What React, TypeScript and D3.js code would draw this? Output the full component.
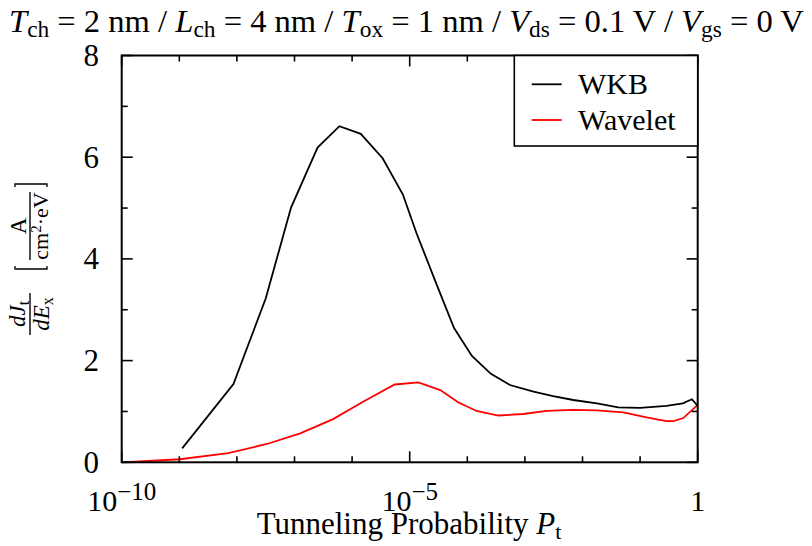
import React from "react";
import * as d3 from "d3";

const wkbExp = [-8.95, -8.06, -7.5, -7.06, -6.6, -6.22, -5.85, -5.47, -5.12, -4.88, -4.53, -4.23, -3.92, -3.59, -3.26, -2.85, -2.51, -2.16, -1.75, -1.38, -1.0, -0.54, -0.26, -0.1, 0];
const wkbVal = [0.275, 1.54, 3.22, 5.01, 6.19, 6.61, 6.46, 5.98, 5.27, 4.5, 3.49, 2.64, 2.09, 1.74, 1.52, 1.39, 1.3, 1.225, 1.16, 1.08, 1.07, 1.11, 1.16, 1.24, 1.11];
const wavExp = [-10, -8.99, -8.15, -7.48, -6.9, -6.33, -5.81, -5.26, -4.85, -4.47, -4.16, -3.84, -3.46, -3.03, -2.62, -2.16, -1.75, -1.29, -0.89, -0.54, -0.42, -0.25, 0];
const wavVal = [0, 0.06, 0.18, 0.36, 0.57, 0.85, 1.19, 1.53, 1.57, 1.42, 1.18, 1.01, 0.92, 0.95, 1.01, 1.03, 1.02, 0.98, 0.885, 0.81, 0.81, 0.87, 1.13];

const xMajorExp = [-10, -5, 0];
const xMinorExp = [-9, -8, -7, -6, -4, -3, -2, -1];
const yMajor = [0, 2, 4, 6, 8];
const yMinor = [1, 3, 5, 7];
const xTickLabels = ["10", "10", "1"];
const xTickSup = ["\u221210", "\u22125", ""];

const seriesNames = ["WKB", "Wavelet"];
const seriesColors = ["#000000", "#ff0000"];

const W = 812, H = 546;
const L = 121.7, R = 697.7, T = 55.5, B = 462.3;
const FONT = "Liberation Serif, Times New Roman, Tinos, DejaVu Serif, serif";
const F = { fontFamily: FONT };

export default function App() {
  const x = d3.scaleLog().domain([1e-10, 1]).range([L, R]);
  const y = d3.scaleLinear().domain([0, 8]).range([B, T]);
  const line = d3
    .line<[number, number]>()
    .x((d) => x(Math.pow(10, d[0])))
    .y((d) => y(d[1]));
  const wkb = wkbExp.map((e, i) => [e, wkbVal[i]] as [number, number]);
  const wav = wavExp.map((e, i) => [e, wavVal[i]] as [number, number]);

  const majLen = 11, minLen = 6;
  const tickStyle = { stroke: "#000", strokeWidth: 1.6 };

  return (
    <svg width={W} height={H} style={{ position: "absolute", left: 0, top: 0, background: "#fff", fontFamily: FONT }}>
      <rect x={0} y={0} width={W} height={H} fill="#fff" />
      {/* title */}
      <text x={9} y={32} fontSize={32.6} style={F}>
        <tspan fontStyle="italic">T</tspan>
        <tspan fontSize={23.4} dy={5}>ch</tspan>
        <tspan dy={-5}> = 2 nm / </tspan>
        <tspan fontStyle="italic">L</tspan>
        <tspan fontSize={23.4} dy={5}>ch</tspan>
        <tspan dy={-5}> = 4 nm / </tspan>
        <tspan fontStyle="italic">T</tspan>
        <tspan fontSize={23.4} dy={5}>ox</tspan>
        <tspan dy={-5}> = 1 nm / </tspan>
        <tspan fontStyle="italic">V</tspan>
        <tspan fontSize={23.4} dy={5}>ds</tspan>
        <tspan dy={-5}> = 0.1 V / </tspan>
        <tspan fontStyle="italic">V</tspan>
        <tspan fontSize={23.4} dy={5}>gs</tspan>
        <tspan dy={-5}> = 0 V</tspan>
      </text>

      {/* curves */}
      <path d={line(wav) || ""} fill="none" stroke={seriesColors[1]} strokeWidth={1.8} />
      <path d={line(wkb) || ""} fill="none" stroke={seriesColors[0]} strokeWidth={1.8} />

      {/* ticks */}
      {xMajorExp.map((e, i) => (
        <g key={"xM" + i}>
          <line x1={x(Math.pow(10, e))} x2={x(Math.pow(10, e))} y1={B} y2={B - majLen} style={tickStyle} />
          <line x1={x(Math.pow(10, e))} x2={x(Math.pow(10, e))} y1={T} y2={T + majLen} style={tickStyle} />
          <text x={x(Math.pow(10, e))} y={510.5} fontSize={30} textAnchor="middle" style={F}>
            {xTickLabels[i]}
            {xTickSup[i] ? <tspan fontSize={25} dy={-11}>{xTickSup[i]}</tspan> : null}
          </text>
        </g>
      ))}
      {xMinorExp.map((e, i) => (
        <g key={"xm" + i}>
          <line x1={x(Math.pow(10, e))} x2={x(Math.pow(10, e))} y1={B} y2={B - minLen} style={tickStyle} />
          <line x1={x(Math.pow(10, e))} x2={x(Math.pow(10, e))} y1={T} y2={T + minLen} style={tickStyle} />
        </g>
      ))}
      {yMajor.map((v, i) => (
        <g key={"yM" + i}>
          <line x1={L} x2={L + majLen} y1={y(v)} y2={y(v)} style={tickStyle} />
          <line x1={R} x2={R - majLen} y1={y(v)} y2={y(v)} style={tickStyle} />
          <text x={99} y={y(v) + 10.5} fontSize={31} textAnchor="end" style={F}>{v}</text>
        </g>
      ))}
      {yMinor.map((v, i) => (
        <g key={"ym" + i}>
          <line x1={L} x2={L + minLen} y1={y(v)} y2={y(v)} style={tickStyle} />
          <line x1={R} x2={R - minLen} y1={y(v)} y2={y(v)} style={tickStyle} />
        </g>
      ))}

      {/* frame */}
      <rect x={L} y={T} width={R - L} height={B - T} fill="none" stroke="#000" strokeWidth={2} />

      {/* legend */}
      <rect x={514.3} y={T} width={R - 514.3} height={146 - T} fill="#fff" stroke="#000" strokeWidth={1.6} />
      {seriesNames.map((n, i) => (
        <g key={n}>
          <line x1={531.7} x2={561.7} y1={84.3 + i * 35.7} y2={84.3 + i * 35.7} stroke={seriesColors[i]} strokeWidth={1.8} />
          <text x={578} y={84.3 + i * 35.7 + 10} fontSize={30} style={F}>{n}</text>
        </g>
      ))}

      {/* x label */}
      <text x={409} y={534} fontSize={31} textAnchor="middle" style={F}>
        Tunneling Probability <tspan fontStyle="italic">P</tspan>
        <tspan fontSize={22} dy={5}>t</tspan>
      </text>

      {/* y label */}
      <g transform="translate(30,262) rotate(-90)" style={F}>
        <text x={-52} y={-5} fontSize={23} textAnchor="middle">
          <tspan fontStyle="italic">dJ</tspan>
          <tspan fontSize={16} dy={4}>t</tspan>
        </text>
        <line x1={-73} x2={-31} y1={0} y2={0} stroke="#000" strokeWidth={1.4} />
        <text x={-52} y={19} fontSize={23} textAnchor="middle">
          <tspan fontStyle="italic">dE</tspan>
          <tspan fontSize={16} dy={4}>x</tspan>
        </text>
        <path d="M-4,-15 L-7,-15 L-7,17 L-4,17 M75,-15 L78,-15 L78,17 L75,17" fill="none" stroke="#000" strokeWidth={1.3} />
        <text x={36} y={-4} fontSize={23} textAnchor="middle">A</text>
        <line x1={2} x2={70} y1={0} y2={0} stroke="#000" strokeWidth={1.4} />
        <text x={36} y={18} fontSize={22} textAnchor="middle">
          cm<tspan fontSize={15} dy={-7}>2</tspan>
          <tspan dy={7}>·eV</tspan>
        </text>
      </g>
    </svg>
  );
}
